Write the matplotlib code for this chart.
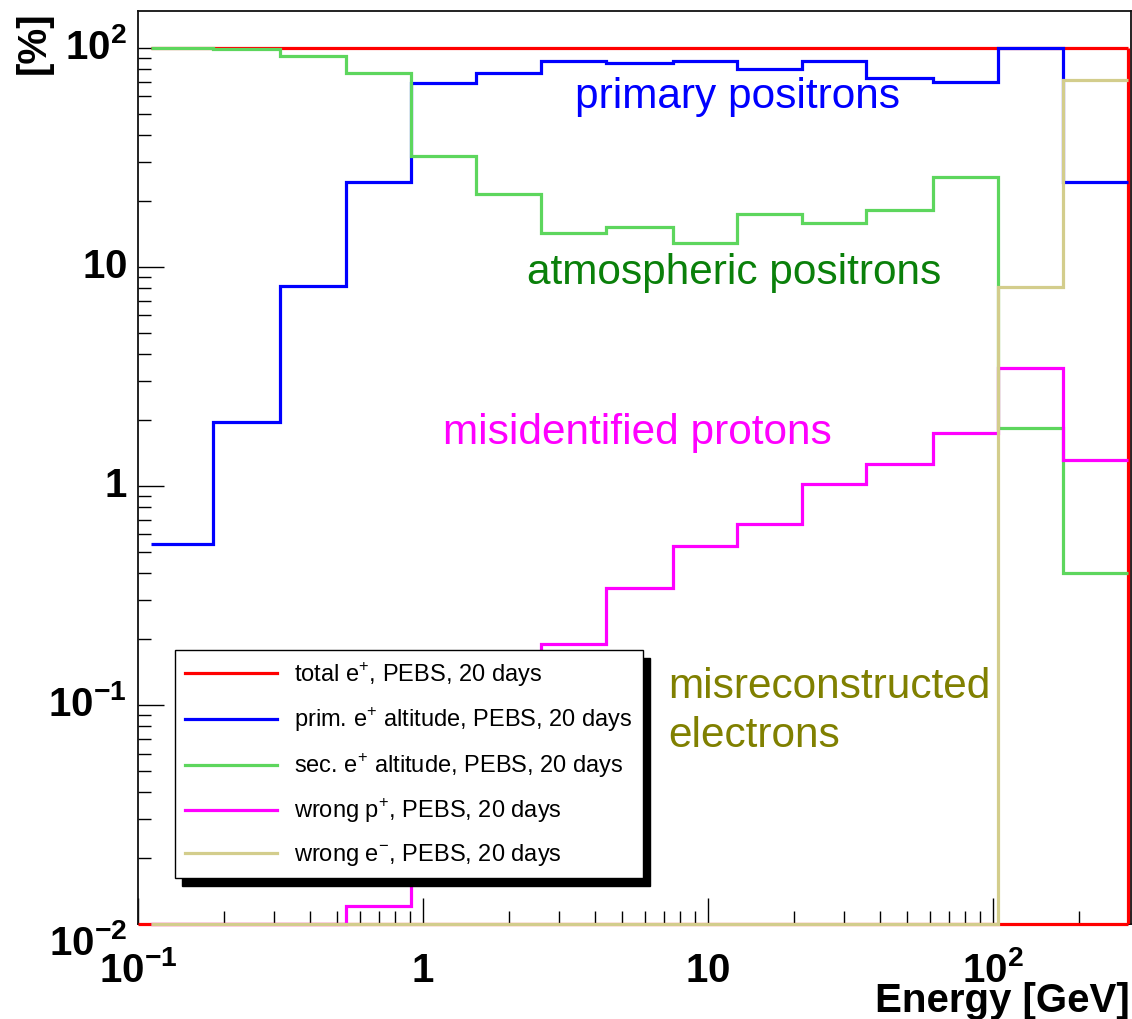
import numpy as np
import matplotlib
matplotlib.use("Agg")
import matplotlib.pyplot as plt
from matplotlib.patches import Rectangle

plt.rcParams['font.family'] = ['Liberation Sans', 'DejaVu Sans']
plt.rcParams['mathtext.fontset'] = 'custom'
plt.rcParams['mathtext.rm'] = 'Liberation Sans'
plt.rcParams['mathtext.bf'] = 'Liberation Sans:bold'

# bin edges in GeV (log binning)
edges = [0.111, 0.183, 0.315, 0.537, 0.908, 1.535, 2.59, 4.39, 7.54,
         12.6, 21.4, 35.8, 61.5, 104, 176, 298]

# fractions in %
total = [100, 100, 100, 100, 100, 100, 100, 100, 100, 100, 100, 100, 100, 100, 100]
prim = [0.54, 1.96, 8.2, 24.4, 69, 77, 86.5, 85, 86.5, 80, 86.5, 73, 70, 100, 24.4]
sec = [100, 98.5, 92, 76.6, 32.1, 21.5, 14.3, 15.2, 12.8, 17.5, 15.8, 18.2, 25.6, 1.83, 0.40]
wrong_p = [0, 0, 0, 0.0121, 0.035, 0.09, 0.189, 0.342, 0.533, 0.668, 1.02, 1.26, 1.74, 3.45, 1.31]
wrong_e = [0, 0, 0, 0, 0, 0, 0, 0, 0, 0, 0, 0, 0, 8.05, 71.4]

labels = [r'total e$^{+}$, PEBS, 20 days',
          r'prim. e$^{+}$ altitude, PEBS, 20 days',
          r'sec. e$^{+}$ altitude, PEBS, 20 days',
          r'wrong p$^{+}$, PEBS, 20 days',
          r'wrong e$^{-}$, PEBS, 20 days']
colors = ['#ff0000', '#0000ff', '#5dd65d', '#ff00ff', '#d3cd8c']

xticks = [0.1, 1, 10, 100]
xticklabels = [r'$\mathbf{10^{-1}}$', r'$\mathbf{1}$', r'$\mathbf{10}$', r'$\mathbf{10^{2}}$']
yticks = [0.01, 0.1, 1, 10, 100]
yticklabels = [r'$\mathbf{10^{-2}}$', r'$\mathbf{10^{-1}}$', r'$\mathbf{1}$',
               r'$\mathbf{10}$', r'$\mathbf{10^{2}}$']

xlo, xhi = 0.1, 305
ylo, yhi = 0.01, 147

fig = plt.figure(figsize=(11.32, 10.19), dpi=100)
ax = fig.add_axes([0.1219, 0.0932, 0.8772, 0.8960])
ax.set_xscale('log')
ax.set_yscale('log')
ax.set_xlim(xlo, xhi)
ax.set_ylim(ylo, yhi)

lw = 2.3
series = [total, prim, sec, wrong_p, wrong_e]
handles = []
for vals, col, lab in zip(series, colors, labels):
    v = np.clip(np.array(vals, dtype=float), ylo, None)
    ax.stairs(v, edges, baseline=None, color=col, lw=lw, zorder=3, clip_on=False)
    h, = ax.plot([], [], color=col, lw=lw, label=lab)
    handles.append(h)
    if vals is total:
        # closing edge of the total histogram, down to the frame
        ax.vlines(edges[-1], ylo, total[-1], color=col, lw=lw, zorder=3)
        ax.hlines(ylo, xlo, edges[-1], color=col, lw=lw, zorder=3, clip_on=False)

# annotations
fs_ann = 30.5
ax.text(3.41, 59.7, 'primary positrons', color='#0000ff', fontsize=fs_ann, va='center')
ax.text(2.32, 9.4, 'atmospheric positrons', color='#0a800a', fontsize=fs_ann, va='center')
ax.text(1.175, 1.75, 'misidentified protons', color='#ff00ff', fontsize=fs_ann, va='center')
ax.text(7.24, 0.093, 'misreconstructed\nelectrons', color='#808000', fontsize=fs_ann,
        va='center', linespacing=1.3)

# axes styling
ax.set_xticks(xticks, xticklabels)
ax.set_yticks(yticks, yticklabels)
ax.tick_params(which='major', direction='in', length=19, width=1.0,
               labelsize=29, top=False, right=False)
ax.tick_params(which='minor', direction='in', length=9.5, width=1.0,
               top=False, right=False)
ax.tick_params(axis='x', which='major', pad=42)
ax.tick_params(axis='y', which='major', pad=8)
for lbl in ax.get_xticklabels():
    lbl.set_va('baseline')
ylbls = ax.get_yticklabels()
for lbl in ylbls:
    lbl.set_va('center')
ylbls[0].set_va('top')
for sp in ax.spines.values():
    sp.set_linewidth(1.3)
    sp.set_color('#111111')

ax.set_xlabel('Energy [GeV]', fontsize=29, fontweight='bold', loc='right')
ax.xaxis.set_label_coords(0.999, -0.064)
ax.set_ylabel('[%]', fontsize=29, fontweight='bold', loc='top')
ax.yaxis.set_label_coords(-0.086, 1.0)

leg = ax.legend(handles=handles, loc='lower left', bbox_to_anchor=(0.037, 0.05),
                borderaxespad=0, fontsize=17, frameon=True, fancybox=False,
                edgecolor='black', framealpha=1, handlelength=3.9,
                handletextpad=0.75, labelspacing=0.72, borderpad=0.42)
leg.get_frame().set_linewidth(1.0)

# solid drop shadow under the legend box
fig.canvas.draw()
bb = leg.get_window_extent().transformed(fig.transFigure.inverted())
dx, dy = 7 / 1132, 8 / 1019
ax.add_patch(Rectangle((bb.x0 + dx, bb.y0 - dy), bb.width, bb.height,
                       transform=fig.transFigure, facecolor='black',
                       edgecolor='black', zorder=4.9))

fig.savefig('out.png', dpi=100)
